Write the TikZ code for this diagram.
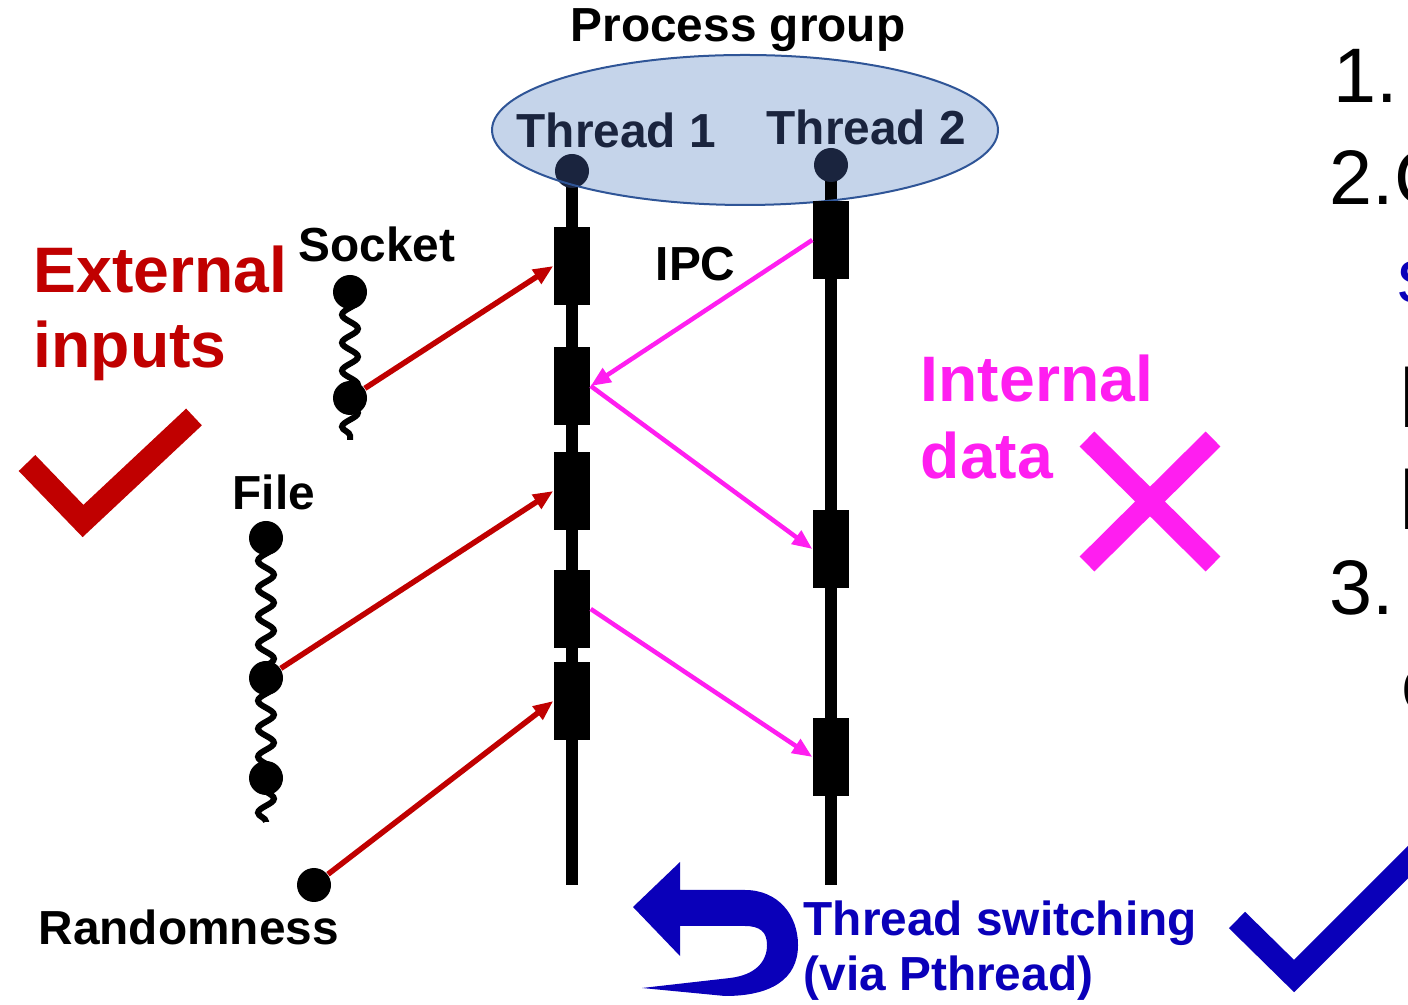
\documentclass[tikz,border=0pt]{standalone}
\usepackage{fontspec}
\setmainfont{Liberation Sans}
\usetikzlibrary{shapes.geometric,positioning,calc}
\usetikzlibrary{arrows.meta,decorations.pathmorphing}
\definecolor{extred}{RGB}{192,0,0}
\definecolor{intpink}{RGB}{255,30,240}
\definecolor{swblue}{RGB}{10,0,185}
\definecolor{grpfill}{RGB}{197,212,234}
\definecolor{grpline}{RGB}{47,85,151}
\definecolor{navy}{RGB}{26,36,62}
\tikzset{
	blk/.style={rectangle,fill=black,minimum width=3.6mm,minimum height=7.8mm,inner sep=0pt},
	dot/.style={circle,fill=black,minimum size=3.4mm,inner sep=0pt},
	tdot/.style={dot,fill=navy},
	thr/.style={line width=1.2mm},
	wave/.style={line width=0.6mm,decorate,decoration={snake,amplitude=0.8mm,segment length=2.8mm}},
	extarr/.style={extred,line width=0.55mm,-{Triangle[length=2mm,width=1.6mm]}},
	intarr/.style={intpink,line width=0.45mm,-{Triangle[length=2mm,width=1.6mm]}},
	lbl/.style={font=\fontsize{13.6}{16}\selectfont\bfseries,inner sep=0pt,anchor=base west},
	big/.style={font=\fontsize{18.3}{21.3}\selectfont\bfseries,inner sep=0pt,anchor=north west,align=left},
	num/.style={font=\fontsize{22}{26}\selectfont,inner sep=0pt,anchor=base west}
}

\begin{document}
\begin{tikzpicture}[x=0.1mm,y=-0.1mm]
	\def\xA{572}; % thread 1
	\def\xB{831}; % thread 2
	\def\yEnd{885};
\useasboundingbox (0,0) rectangle (1408,1005);
\clip (0,0) rectangle (1408,1005); % cuts the text on the right

%Process group
\node[ellipse,fill=grpfill,minimum width=50.6mm,minimum height=15mm] (pg) at (745,130) {};
\node[lbl] (pglbl) at (570,42) {Process group};
\node[lbl,navy] (t1lbl) at (516,148) {Thread 1};
\node[lbl,navy] (t2lbl) at (766,145) {Thread 2};

%Threads
\coordinate (t1top) at (\xA,171);
\coordinate (t1end) at (\xA,\yEnd);
\coordinate (t2top) at (\xB,165);
\coordinate (t2end) at (\xB,\yEnd);
\draw[thr] (t1top) -- (t1end);
\draw[thr] (t2top) -- (t2end);
\node[tdot] (t1dot) at (t1top) {};
\node[tdot] (t2dot) at (t2top) {};
\node[ellipse,draw=grpline,line width=0.2mm,minimum width=50.6mm,minimum height=15mm] (pgrim) at (pg) {};

%Blocs
\foreach \y [count=\i] in {266,386,491,609,701}
	\node[blk] (a\i) at (\xA,\y) {};
\foreach \y [count=\i] in {240,549,757}
	\node[blk] (b\i) at (\xB,\y) {};

%Sources
\coordinate (skend) at (350,440);
\coordinate (flend) at (266,822);
\draw[wave] (350,292) -- (skend);
\draw[wave] (266,538) -- (flend);
\node[dot] (sk1) at (350,292) {};
\node[dot] (sk2) at (350,398) {};
\node[dot] (fl1) at (266,538) {};
\node[dot] (fl2) at (266,678) {};
\node[dot] (fl3) at (266,778) {};
\node[dot] (rnd) at (314,885) {};
\node[lbl] (socklbl) at (298,262) {Socket};
\node[lbl] (filelbl) at (232,510) {File};
\node[lbl] (rndlbl) at (38,945) {Randomness};
\node[lbl] (ipclbl) at (655,281) {IPC};

%External inputs
\draw[extarr] (sk2) -- (a1.west);
\draw[extarr] (fl2) -- (a3.west);
\draw[extarr] (rnd) -- (a5.west);

%IPC
\draw[intarr] (b1.west) -- (a2.east);
\draw[intarr] (a2.east) -- (b2.west);
\draw[intarr] (a4.east) -- (b3.west);

%Textes
\node[big,extred] (extlbl) at (33,245) {External\\inputs};
\node[big,intpink,font=\fontsize{18.3}{21.9}\selectfont\bfseries] (intlbl) at (920,354) {Internal\\data};
\node[lbl,anchor=north west,align=left,swblue,font=\fontsize{13.6}{15.8}\selectfont\bfseries] (swlbl) at (803,900) {Thread switching\\(via Pthread)};

%Marques
\draw[extred,line width=2.3mm,line join=miter] (27,463) -- (83,521) -- (194,417);
\draw[intpink,line width=2.1mm] (1087,439) -- (1213,564) (1213,439) -- (1087,564);
\draw[swblue,line width=2.3mm,line join=miter] (1237,920) -- (1294,976) -- (1430,840);

%U-turn
\fill[swblue] (633,907) -- (680,862) -- (680,890) -- (745,890)
	.. controls (778,890) and (798,915) .. (798,945)
	.. controls (798,980) and (770,996) .. (725,996)
	-- (642,988) -- (730,978)
	.. controls (755,975) and (767,962) .. (767,945)
	.. controls (767,932) and (760,926) .. (745,926)
	-- (680,926) -- (680,956) -- cycle;

%Liste coupee
\node[num] (n1) at (1333,103) {1.};
\node[num] (n2) at (1329,205) {2.C};
\node[num,swblue] (n2a) at (1397,303) {s};
\node[num,font=\fontsize{25}{30}\selectfont] (n2b) at (1397,428) {I};
\node[num,font=\fontsize{25}{30}\selectfont] (n2c) at (1397,530) {I};
\node[num] (n3) at (1329,615) {3.};
\node[num] (n3a) at (1401,711) {c};

\end{tikzpicture}
\end{document}
